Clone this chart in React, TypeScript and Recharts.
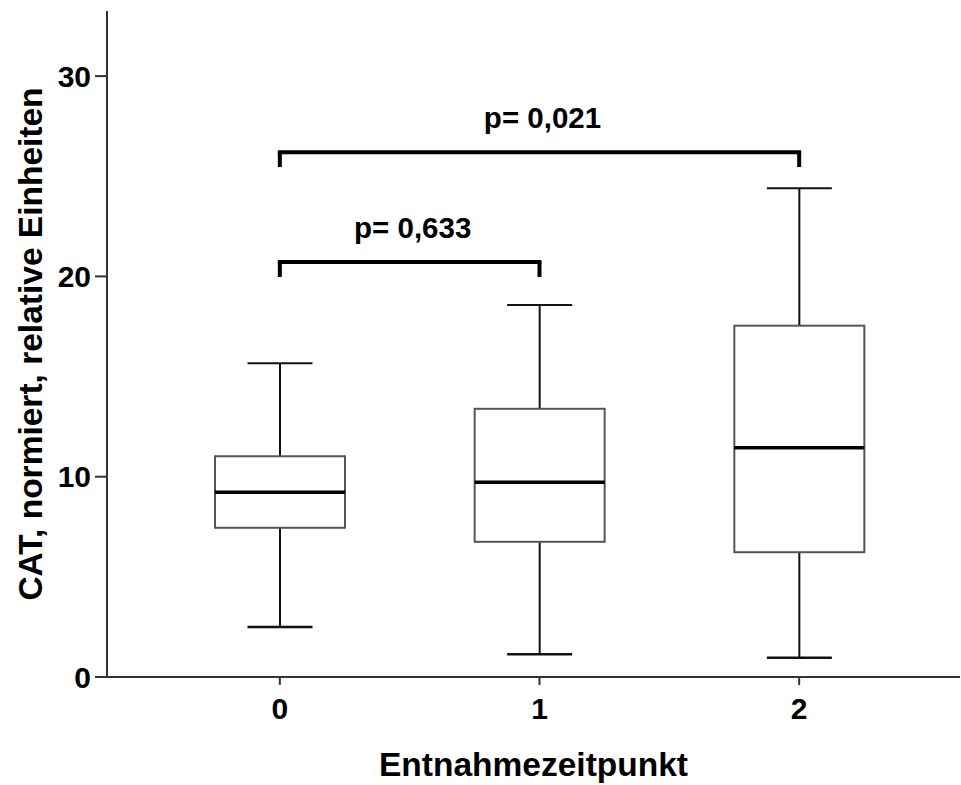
import { ComposedChart, Bar, XAxis, YAxis, ReferenceLine } from 'recharts'

const categories = ['0', '1', '2']
const whiskerLow = [2.5, 1.13, 0.96]
const quartile1 = [7.45, 6.75, 6.23]
const medians = [9.22, 9.72, 11.45]
const quartile3 = [11.02, 13.39, 17.54]
const whiskerHigh = [15.66, 18.57, 24.4]
const yTicks = [0, 10, 20, 30]

// significance brackets
const bracketFrom = ['0', '0']
const bracketTo = ['1', '2']
const bracketLevel = [20.72, 26.2]
const bracketEnd = [19.97, 25.46]
const pLabels = ['p= 0,633', 'p= 0,021']

const FONT = '"Liberation Sans", Arial, sans-serif'

const data = categories.map((name, i) => ({
  name,
  low: whiskerLow[i],
  q1: quartile1[i],
  median: medians[i],
  q3: quartile3[i],
  high: whiskerHigh[i],
  range: [whiskerLow[i], whiskerHigh[i]],
}))

function BoxShape(props: any) {
  const { x, y, width, height, payload } = props
  if (!payload) return null
  const { low, q1, median, q3, high } = payload
  const top = Math.min(y, y + height)
  const bottom = Math.max(y, y + height)
  const py = (v: number) => bottom - ((bottom - top) * (v - low)) / (high - low)
  const cx = x + width / 2
  const cap = width / 4
  return (
    <g>
      <line x1={cx} x2={cx} y1={py(high)} y2={py(q3)} stroke="#111" strokeWidth={2} />
      <line x1={cx} x2={cx} y1={py(q1)} y2={py(low)} stroke="#111" strokeWidth={2} />
      <line x1={cx - cap} x2={cx + cap} y1={py(high)} y2={py(high)} stroke="#111" strokeWidth={2} />
      <line x1={cx - cap} x2={cx + cap} y1={py(low)} y2={py(low)} stroke="#111" strokeWidth={2.5} />
      <rect
        x={x}
        y={py(q3)}
        width={width}
        height={py(q1) - py(q3)}
        fill="#fff"
        stroke="#555"
        strokeWidth={2}
      />
      <line x1={x} x2={x + width} y1={py(median)} y2={py(median)} stroke="#000" strokeWidth={3.5} />
    </g>
  )
}

function YTitle(props: any) {
  const vb = props.viewBox || { x: 0, y: 11, width: 107, height: 666 }
  const cx = vb.x + 30
  const cy = vb.y + vb.height / 2
  return (
    <text
      x={cx}
      y={cy}
      transform={`rotate(-90, ${cx}, ${cy})`}
      textAnchor="middle"
      dominantBaseline="central"
      fontFamily={FONT}
      fontWeight="bold"
      fontSize={33.5}
      fill="#000"
    >
      CAT, normiert, relative Einheiten
    </text>
  )
}

function PLabel(text: string) {
  return (props: any) => {
    const vb = props.viewBox
    if (!vb) return null
    return (
      <text
        x={vb.x + vb.width / 2 + 3}
        y={vb.y - 24}
        textAnchor="middle"
        fontFamily={FONT}
        fontWeight="bold"
        fontSize={29.5}
        fill="#000"
      >
        {text}
      </text>
    )
  }
}

export default function App() {
  return (
    <div style={{ position: 'absolute', left: 0, top: 0, background: '#fff' }}>
      <ComposedChart
        width={961}
        height={785}
        data={data}
        margin={{ top: 11, right: 1, bottom: 0, left: 0 }}
      >
        <XAxis
          dataKey="name"
          type="category"
          padding={{ left: 43, right: 31 }}
          height={108}
          axisLine={{ stroke: '#333', strokeWidth: 2 }}
          tickLine={{ stroke: '#333', strokeWidth: 2 }}
          tickSize={8}
          tickMargin={13}
          tick={{ fontSize: 30, fontWeight: 'bold', fill: '#000', fontFamily: FONT }}
          label={{
            value: 'Entnahmezeitpunkt',
            position: 'insideBottom',
            offset: 9,
            style: { fontSize: 33.5, fontWeight: 'bold', fill: '#000', fontFamily: FONT },
          }}
        />
        <YAxis
          type="number"
          domain={[0, 33.25]}
          ticks={yTicks}
          width={107}
          axisLine={{ stroke: '#333', strokeWidth: 2 }}
          tickLine={{ stroke: '#333', strokeWidth: 2 }}
          tickSize={12}
          tickMargin={4}
          tick={{ fontSize: 30, fontWeight: 'bold', fill: '#000', fontFamily: FONT }}
          label={YTitle}
        />
        <Bar dataKey="range" barSize={130} shape={BoxShape} isAnimationActive={false} />
        {bracketFrom.map((from, i) => (
          <ReferenceLine
            key={`h${i}`}
            segment={[
              { x: from, y: bracketLevel[i] },
              { x: bracketTo[i], y: bracketLevel[i] },
            ]}
            stroke="#000"
            strokeWidth={4}
            strokeLinecap="square"
            label={PLabel(pLabels[i])}
          />
        ))}
        {bracketFrom.map((from, i) => (
          <ReferenceLine
            key={`l${i}`}
            segment={[
              { x: from, y: bracketLevel[i] },
              { x: from, y: bracketEnd[i] },
            ]}
            stroke="#000"
            strokeWidth={4}
          />
        ))}
        {bracketTo.map((to, i) => (
          <ReferenceLine
            key={`r${i}`}
            segment={[
              { x: to, y: bracketLevel[i] },
              { x: to, y: bracketEnd[i] },
            ]}
            stroke="#000"
            strokeWidth={4}
          />
        ))}
      </ComposedChart>
    </div>
  )
}
